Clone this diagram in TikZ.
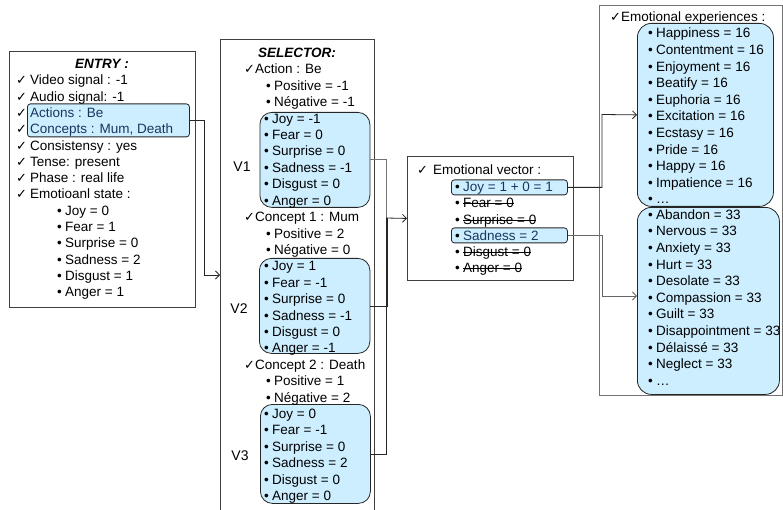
\documentclass[tikz,border=0pt]{standalone}
\usepackage{fontspec}
\setmainfont{Liberation Sans}
\newfontfamily\dvfont{DejaVu Sans}
\usetikzlibrary{arrows.meta}
\definecolor{hlblue}{RGB}{204,238,255}
\definecolor{hltext}{RGB}{23,55,94}
\newcommand\myfs{\fontsize{13.5}{16}\selectfont}
\newcommand\mybul{\makebox[8pt][l]{•}}
\newcommand\myck[1]{\makebox[#1][l]{\dvfont\fontsize{13}{13}\selectfont ✓}}
\newsavebox\mystrbox
\newcommand\mystrike[1]{\sbox\mystrbox{#1}\rlap{\rule[0.27em]{\wd\mystrbox}{0.9pt}}\usebox\mystrbox}
\begin{document}
\begin{tikzpicture}[x=1pt,y=-1pt,
  txt/.style={anchor=west, inner sep=0pt, text height=9.7pt, text depth=0pt, font=\myfs},
  ttl/.style={anchor=center, inner sep=0pt, text height=9.7pt, text depth=0pt, font=\myfs\bfseries\itshape},
  frame/.style={draw=black!75, line width=0.9pt, inner sep=0pt, anchor=north west},
  hl/.style={draw=black!85, fill=hlblue, rounded corners=3pt, line width=0.8pt, inner sep=0pt, anchor=north west},
  vbox/.style={draw=black!85, fill=hlblue, rounded corners=12pt, line width=0.8pt, inner sep=0pt, anchor=north west},
  conn/.style={draw=black!85, line width=0.8pt},
  arr/.style={conn, -{Straight Barb[length=4pt,width=8pt]}},
  vlab/.style={anchor=center, inner sep=0pt, text height=10pt, text depth=0pt, font=\fontsize{14}{14}\selectfont}]
\useasboundingbox (0,0) rectangle (783,510);

% ---------- frames and highlight boxes
\node[frame, minimum width=186pt, minimum height=256pt] (entry) at (9,51) {};
\node[hl, minimum width=162pt, minimum height=33pt] (entryhl) at (27,103.5) {};

\node[inner sep=0pt, anchor=north west, minimum width=154pt, minimum height=475pt] (sel) at (220,39) {};
\draw[frame] (sel.south west) -- (sel.north west) -- (sel.north east) -- (sel.south east);
\node[vbox, minimum width=110pt, minimum height=95pt] (v1) at (259.5,112) {};
\node[vbox, minimum width=110.5pt, minimum height=95pt] (v2) at (259,258) {};
\node[vbox, minimum width=110pt, minimum height=99pt] (v3) at (260,404) {};

\node[frame, minimum width=166pt, minimum height=124pt] (vec) at (407,156) {};
\node[hl, minimum width=116pt, minimum height=15pt] (joyhl) at (451,179.5) {};
\node[hl, minimum width=116pt, minimum height=15pt] (sadhl) at (451,227.5) {};

\node[frame, draw=black!55, minimum width=183pt, minimum height=390pt] (exp) at (599,5) {};
\node[vbox, rounded corners=14pt, minimum width=136pt, minimum height=183pt] (upbox) at (637,23) {};
\node[vbox, rounded corners=14pt, minimum width=142pt, minimum height=187pt] (lowbox) at (637,207) {};

% ---------- connectors
\draw[arr] (entryhl.east) -| (204,275) -- (sel.west |- 0,275);
\draw[conn, draw=black!55] (v1.east) -| (386,218);
\draw[conn] (v2.east) -| (387,218);
\draw[conn] (v3.east) -| (386,218);
\draw[arr] (386,218) -- (vec.west);
\draw[arr] (joyhl.east) -| (602,114.5) -- (upbox.west);
\draw[arr, draw=black!60] (sadhl.east) -| (602,296) -- (lowbox.west |- 0,296);

% ---------- ENTRY texts
\node[ttl] (entryt) at (102,64) {ENTRY :};
\node[txt] (e1) at (16,80) {\myck{14pt}Video signal : -1};
\node[txt] (e2) at (16,96.3) {\myck{14pt}Audio signal: -1};
\node[txt] (e3) at (16,112.6) {\myck{14pt}\textcolor{hltext}{Actions : Be}};
\node[txt] (e4) at (16,128.9) {\myck{14pt}\textcolor{hltext}{Concepts : Mum, Death}};
\node[txt] (e5) at (16,145.2) {\myck{14pt}Consistensy : yes};
\node[txt] (e6) at (16,161.5) {\myck{14pt}Tense: present};
\node[txt] (e7) at (16,177.8) {\myck{14pt}Phase : real life};
\node[txt] (e8) at (16,194.1) {\myck{14pt}Emotioanl state :};
\foreach \t [count=\i] in {Joy = 0, Fear = 1, Surprise = 0, Sadness = 2, Disgust = 1, Anger = 1}
  \node[txt] (eb\i) at (57,{194.1+16.3*\i}) {\mybul\t};

% ---------- SELECTOR texts
\node[ttl] (selt) at (297,53) {SELECTOR:};
\node[txt] (s1) at (244,69) {\myck{11pt}Action : Be};
\node[txt] (s2) at (266,85.4) {\mybul Positive = -1};
\node[txt] (s3) at (266,101.8) {\mybul Négative = -1};
\foreach \t [count=\i] in {Joy = -1, Fear = 0, Surprise = 0, Sadness = -1, Disgust = 0, Anger = 0}
  \node[txt] (sa\i) at (264,{101.8+16.42*\i}) {\mybul\t};
\node[txt] (s4) at (244,216.8) {\myck{11pt}Concept 1 : Mum};
\node[txt] (s5) at (266,233.2) {\mybul Positive = 2};
\node[txt] (s6) at (266,249.6) {\mybul Négative = 0};
\foreach \t [count=\i] in {Joy = 1, Fear = -1, Surprise = 0, Sadness = -1, Disgust = 0, Anger = -1}
  \node[txt] (sb\i) at (264,{249.6+16.42*\i}) {\mybul\t};
\node[txt] (s7) at (244,364.5) {\myck{11pt}Concept 2 : Death};
\node[txt] (s8) at (266,380.9) {\mybul Positive = 1};
\node[txt] (s9) at (266,397.3) {\mybul Négative = 2};
\foreach \t [count=\i] in {Joy = 0, Fear = -1, Surprise = 0, Sadness = 2, Disgust = 0, Anger = 0}
  \node[txt] (sc\i) at (264,{397.3+16.42*\i}) {\mybul\t};
\node[vlab] (v1l) at (242,167) {V1};
\node[vlab] (v2l) at (239,308) {V2};
\node[vlab] (v3l) at (240,455) {V3};

% ---------- Emotional vector texts
\node[txt] (ev) at (417,170) {\myck{16pt}Emotional vector :};
\node[txt] (ev1) at (455,186.8) {\mybul\textcolor{hltext}{Joy = 1 + 0 = 1}};
\node[txt] (ev2) at (455,203.1) {\mybul\mystrike{Fear = 0}};
\node[txt] (ev3) at (455,219.4) {\mybul\mystrike{Surprise = 0}};
\node[txt] (ev4) at (455,235.2) {\mybul\textcolor{hltext}{Sadness = 2}};
\node[txt] (ev5) at (455,251.5) {\mybul\mystrike{Disgust = 0}};
\node[txt] (ev6) at (455,267.8) {\mybul\mystrike{Anger = 0}};

% ---------- Emotional experiences texts
\node[txt] (ex) at (610,17) {\myck{11pt}Emotional experiences :};
\foreach \t [count=\i] in {Happiness = 16, Contentment = 16, Enjoyment = 16, Beatify = 16, Euphoria = 16, Excitation = 16, Ecstasy = 16, Pride = 16, Happy = 16, Impatience = 16, …}
  \node[txt] (xa\i) at (648,{16.4+16.6*\i}) {\mybul\t};
\foreach \t [count=\i] in {Abandon = 33, Nervous = 33, Anxiety = 33, Hurt = 33, Desolate = 33, Compassion = 33, Guilt = 33, Disappointment = 33, Délaissé = 33, Neglect = 33, …}
  \node[txt] (xb\i) at (648,{197.9+16.6*\i}) {\mybul\t};
\end{tikzpicture}
\end{document}
